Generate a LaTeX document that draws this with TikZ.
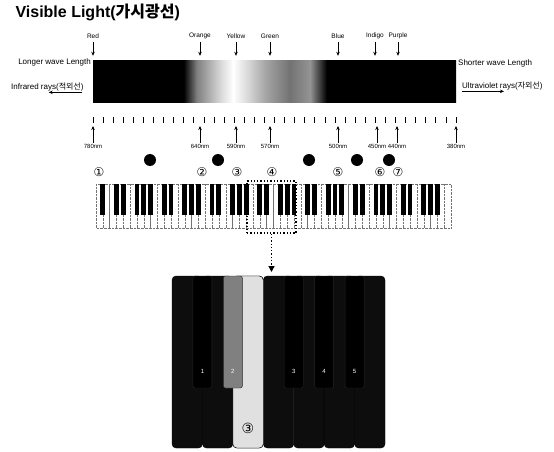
\documentclass[tikz,border=0pt]{standalone}
\usepackage{fontspec}
\setmainfont{Liberation Sans}
\newfontfamily\krfont{Noto Sans CJK KR}
\newfontfamily\symfont{DejaVu Sans}
\usetikzlibrary{positioning,arrows.meta,calc}
\pgfdeclarehorizontalshading{spectrum}{100bp}{%
  color(0bp)=(black); color(37.5bp)=(black);
  color(39.3bp)=(black!50); color(42.6bp)=(black!15);
  color(44.3bp)=(white); color(46.3bp)=(black!15);
  color(48.7bp)=(black!35); color(52.1bp)=(black!55);
  color(54.9bp)=(black!42); color(56.4bp)=(black!80);
  color(57.2bp)=(black); color(100bp)=(black)}

\begin{document}
\begin{tikzpicture}[x=1pt, y=-1pt,
  cl/.style={font=\fontsize{6.5}{7}\selectfont, inner sep=1pt},
  wl/.style={font=\fontsize{6}{7}\selectfont, inner sep=1pt},
  side/.style={font=\fontsize{8}{9}\selectfont, inner sep=1pt},
  ar/.style={-{Stealth[length=4pt,width=3.5pt]}, line width=0.9pt},
  num/.style={font=\symfont\fontsize{12}{12}\selectfont, inner sep=0pt},
  blot/.style={circle, fill=black, minimum size=12pt, inner sep=0pt},
  wkey/.style={draw=black!55, densely dotted, fill=white},
  bkey/.style={fill=black},
  zwkey/.style={draw=black, fill=black!95, rounded corners=4pt},
  zbkey/.style={draw=black!85, fill=black, rounded corners=2pt},
  zlab/.style={font=\fontsize{6}{7}\selectfont, text=white, inner sep=0pt},
  dotar/.style={dotted, line width=1.3pt, -{Triangle[length=6pt,width=6pt]}}
]
\useasboundingbox (0,0) rectangle (554,452);

\node[anchor=west, font=\fontsize{16}{18}\selectfont\bfseries] (title) at (12,12)
  {Visible Light({\krfont 가시광선})};

% spectrum bar and colour names
\node[shading=spectrum, minimum width=363pt, minimum height=41pt, inner sep=0pt] (bar) at (274.5,81.5) {};

\foreach \x/\c/\nm in {93/Red/red, 200/Orange/ora, 236/Yellow/yel, 270/Green/gre,
                       338/Blue/blu, 375/Indigo/ind, 398/Purple/pur}{
  \node[cl] (\nm) at (\x,36) {\c};
  \draw[ar, shorten <=2pt, shorten >=5pt] (\nm.south) -- (\nm.south |- bar.north);
}

\node[side, anchor=east] (lng) at (92,62) {Longer wave Length};
\node[side, anchor=west] (shr) at (457,63) {Shorter wave Length};
\node[side, anchor=west] (ir) at (10,87) {Infrared rays({\krfont 적외선})};
\node[side, anchor=west] (uv) at (461,86) {Ultraviolet rays({\krfont 자외선})};
\draw[ar] ([xshift=-3pt]ir.south east) -- ++(-33,0);
\draw[ar] ([xshift=1pt]uv.south west) -- ++(42,0);

% ruler
\foreach \i in {0,...,36}
  \draw[line width=0.8pt] (93+\i*10.083,117) -- ++(0,6);
\coordinate (rul) at (274,125);

\foreach \x/\w in {93/780, 200/640, 236/590, 270/570, 338/500, 377/450, 397/440, 456/380}{
  \node[wl] (w\w) at (\x,146) {\w nm};
  \draw[ar, shorten >=1pt] (w\w.north) -- (w\w.north |- rul);
}

% key numbers
\foreach \x/\n [count=\k] in {99/①, 202/②, 237/③, 272/④, 338/⑤, 380/⑥, 398/⑦}
  \node[num] (c\k) at (\x,172) {\n};
\foreach \x [count=\k] in {150,218,309,357,389}
  \node[blot] (b\k) at (\x,160) {};

% keyboard
\foreach \i in {0,...,51}
  \draw[wkey] (96+\i*6.827,184) rectangle ++(6.827,44);
\foreach \i in {0,...,50}{
  \pgfmathtruncatemacro\nt{mod(\i+5,7)}
  \ifnum\nt=2 \else\ifnum\nt=6 \else
    \fill[bkey] (96+\i*6.827+6.827-2.4,184) rectangle ++(4.8,31);
  \fi\fi
}

\node[draw, dotted, line width=1.3pt, minimum width=49pt, minimum height=52pt, inner sep=0pt] (sel) at (271.5,207) {};
\coordinate (zoomtop) at (271.5,276);
\draw[dotar, shorten >=4pt] (sel.south) -- (zoomtop);

% enlarged octave
\foreach \i in {0,...,6}
  \draw[zwkey] (172+\i*30.43,276) rectangle ++(30.43,172);
\draw[zwkey, fill=black!12] (172+2*30.43,276) rectangle ++(30.43,172);
\foreach \b/\k in {1/1, 2/2, 4/3, 5/4, 6/5}{
  \ifnum\k=2
    \draw[zbkey, fill=black!50] (172+\b*30.43-9.5,276) rectangle ++(19,112);
  \else
    \draw[zbkey] (172+\b*30.43-9.5,276) rectangle ++(19,112);
  \fi
  \node[zlab] (k\k) at (172+\b*30.43,371) {\k};
}
\node[num, font=\symfont\fontsize{14}{14}\selectfont] (sel3) at (248,428) {③};

\end{tikzpicture}
\end{document}
